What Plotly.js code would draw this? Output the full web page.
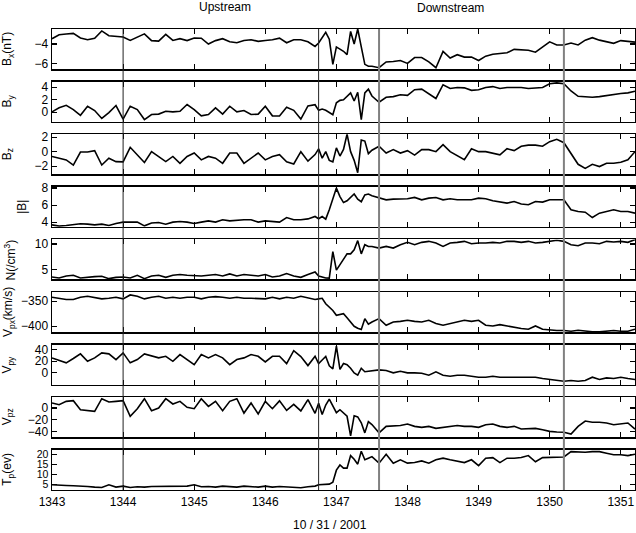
<!DOCTYPE html>
<html>
<head>
<meta charset="utf-8">
<script src="https://cdn.plot.ly/plotly-3.0.1.min.js"></script>
<style>html,body{margin:0;padding:0;background:#fff;}#chart{width:636px;height:533px;}</style>
</head>
<body>
<div id="chart"></div>
<script>
// time axis (minutes-of-day style index)
var time = [1343.0,1343.1,1343.2,1343.3,1343.4,1343.5,1343.6,1343.7,1343.8,1343.9,
1344.0,1344.1,1344.2,1344.3,1344.4,1344.5,1344.6,1344.7,1344.8,1344.9,
1345.0,1345.1,1345.2,1345.3,1345.4,1345.5,1345.6,1345.7,1345.8,1345.9,
1346.0,1346.1,1346.2,1346.3,1346.4,1346.5,1346.6,1346.7,
1346.75,1346.8,1346.85,1346.9,1346.95,1347.0,1347.05,1347.1,1347.15,1347.2,1347.25,1347.3,1347.35,1347.4,1347.45,1347.5,
1347.6,1347.7,1347.8,1347.9,1348.0,1348.1,1348.2,1348.3,1348.4,1348.5,1348.6,1348.7,1348.8,1348.9,
1349.0,1349.1,1349.2,1349.3,1349.4,1349.5,1349.6,1349.7,1349.8,1349.9,
1350.0,1350.1,1350.2,1350.3,1350.4,1350.5,1350.6,1350.7,1350.8,1350.9,
1351.0,1351.1,1351.2];

var Bx = [-3.45,-3.04,-2.97,-2.9,-3.38,-3.56,-3.4,-2.65,-3.15,-3.2,
-3.28,-3.63,-3.3,-2.95,-3.65,-3.7,-3.0,-3.63,-3.45,-3.65,
-3.38,-3.4,-4.0,-3.65,-3.45,-3.77,-3.87,-3.63,-3.56,-3.73,
-3.63,-3.56,-3.4,-3.87,-3.56,-3.56,-3.77,-4.25,
-3.9,-3.3,-2.8,-3.5,-6.1,-4.3,-4.55,-4.75,-5.1,-2.7,-4.0,-2.45,-4.3,-6.1,-6.3,-6.3,
-6.45,-5.85,-5.8,-5.7,-6.0,-5.4,-5.4,-5.85,-6.45,-4.76,-5.45,-5.1,-5.35,-5.35,
-5.7,-5.25,-5.05,-5.0,-4.9,-4.55,-4.6,-4.65,-4.85,-4.3,
-3.78,-4.1,-4.1,-3.9,-4.1,-3.6,-3.35,-3.6,-3.8,-3.93,
-3.65,-3.75,-3.8];

var By = [0.06,0.7,1.1,0.43,-0.5,0.96,0.27,-1.0,-0.05,1.07,
-1.1,0.96,0.43,-1.17,-0.37,-0.3,0.16,0.06,0.16,1.23,
0.43,-0.58,-0.37,0.7,-0.3,0.96,0.06,0.27,-0.37,-0.3,
0.96,-0.58,-0.6,0.8,0.3,-1.1,1.0,1.2,
0.3,0.5,0.3,0.0,-0.4,1.5,1.9,2.0,2.6,3.1,1.8,3.2,-1.2,3.1,3.7,2.6,
1.6,2.4,2.5,2.8,2.7,3.6,3.7,2.9,2.2,4.4,3.8,3.95,3.9,3.5,
3.6,3.95,4.1,3.8,3.95,3.95,3.95,3.8,3.9,3.95,
4.55,4.7,4.55,3.4,2.55,2.5,2.4,2.5,2.7,2.9,
3.0,3.1,3.35];

var Bz = [-0.66,-0.9,-1.13,-1.84,-0.05,-0.05,0.14,-1.84,-0.9,-1.37,
-1.4,0.6,-0.5,-1.5,0.0,-0.66,-1.37,-0.66,-1.6,-0.66,
-0.19,-1.13,-0.66,-0.9,-1.6,-0.19,-0.19,-1.6,-0.9,-0.19,
-1.13,-0.66,-0.42,-1.4,-1.7,0.0,-1.3,-0.4,
0.38,-0.9,0.0,-1.2,-1.4,0.52,-0.6,0.3,2.4,0.0,-1.2,-2.9,1.6,1.46,-0.28,0.2,
0.75,-0.19,0.28,-0.19,0.14,-0.47,0.28,0.28,0.0,0.97,0.0,-0.5,-1.1,0.4,
0.0,0.0,-0.19,-0.43,0.4,0.14,0.75,0.9,0.9,0.75,
1.37,1.7,1.23,-0.19,-1.74,-2.3,-1.74,-2.05,-1.6,-1.6,
-1.46,-1.13,0.0];

var Bmag = [3.68,3.53,3.6,3.68,3.8,3.76,3.68,3.76,3.6,3.84,
4.0,4.0,4.0,3.56,3.9,3.95,3.76,4.0,4.08,4.0,
3.84,4.0,4.15,4.0,4.27,4.15,4.23,4.27,4.27,4.0,
4.15,4.08,4.0,4.54,4.27,4.27,4.38,4.66,
4.4,4.66,4.35,5.45,6.82,8.0,7.0,6.3,6.5,6.9,7.3,6.7,6.4,7.2,7.3,7.1,
6.9,6.62,6.7,6.74,6.74,6.9,6.62,6.82,6.9,6.62,6.74,6.62,6.58,6.62,
6.82,6.74,6.5,6.35,6.23,6.42,6.12,6.04,6.42,6.35,
6.62,6.62,6.62,5.45,5.25,5.17,4.54,5.05,5.25,5.45,
5.25,5.25,5.05];

var N = [3.52,3.32,3.72,3.86,3.32,3.52,3.6,3.66,3.2,3.45,
3.52,3.32,3.86,3.2,3.72,3.86,3.45,3.86,4.0,3.86,
3.72,3.72,3.86,4.0,3.72,4.12,3.72,4.0,3.86,3.72,
4.0,3.52,3.72,4.2,3.72,3.45,4.0,4.52,
3.72,3.45,3.32,3.3,8.52,4.86,5.86,6.86,8.06,8.06,8.86,10.66,8.06,9.86,9.52,9.52,
9.2,9.52,9.2,9.86,10.32,9.86,10.32,10.52,10.2,9.52,10.2,10.32,10.52,10.05,
10.2,10.2,10.32,10.2,10.52,10.52,10.32,10.52,10.2,10.32,
10.52,10.72,10.52,9.86,9.66,10.2,10.2,10.05,10.52,10.4,
10.52,10.32,10.86];

var Vpx = [-342.1,-344.1,-346.6,-346.6,-342.1,-340.1,-342.1,-345.3,-344.1,-342.1,
-345.3,-337.4,-340.1,-345.3,-342.1,-340.1,-344.1,-342.1,-344.1,-342.1,
-342.1,-345.3,-342.1,-340.8,-342.1,-344.1,-342.1,-344.1,-344.1,-345.3,
-345.3,-342.1,-345.3,-342.1,-344.1,-340.1,-344.1,-346.6,
-345.3,-344.1,-355,-362,-368.4,-378,-377,-375,-382.9,-392,-400,-404,-406.6,-384.8,-396,-391.5,
-384.8,-398,-391.5,-390.2,-388.1,-390.2,-391.5,-388.1,-394.7,-398,-394.7,-392.8,-388.1,-390.2,
-388.1,-398,-399.4,-396.7,-399.4,-401.3,-404.6,-405.9,-399.4,-405.9,
-407.9,-408.6,-408.6,-409.9,-407.9,-409.9,-411,-411,-409.9,-408.6,
-409.9,-409.9,-405.9];

var Vpy = [25.7,21.1,17.2,24.6,32.6,19.9,25.7,34.3,32.6,22.8,
34.3,17.2,22.8,32.6,28.5,25.7,28.5,19.9,31.4,22.8,
14.2,31.4,25.7,31.4,25.7,14.2,22.8,25.7,31.4,28.5,
18.8,28.5,28.5,16,38,28,12.5,28.5,
16,22,28,12,7,46,6,16,14,8,0,-4,8,2,3,3,
5.1,4.0,0,2.8,0,0,-0.6,-4,1.7,-4,-5.7,-4,-4,-5.7,
-7.4,-7.4,-5.7,-7.4,-7.4,-7.4,-7.4,-7.4,-7.4,-9.7,
-11.4,-13.1,-14.3,-13.1,-14.3,-13.1,-7.4,-11.4,-8.6,-9.7,
-7.4,-9.7,-11.4];

var Vpz = [8.4,5.6,11.2,12.3,-2.9,-4.6,-5.7,15.7,10.1,11.2,
12.3,-14.2,-1.2,15.7,-4.6,0,15.7,6.7,11.2,1.1,
-1.2,15.7,2.8,11.2,-4.6,11.2,15.7,-8.6,8.4,-10.1,
11.2,-1.2,12,-4,6,-5,14,-9,
8,-11,5,15,3,-8,-3,-8,-14,-47,-13,-15,-25,-42,-23,-28,
-42,-31,-30,-29.6,-27,-31,-32.7,-31,-34.4,-32.7,-31,-29.6,-31,-31,
-32.7,-28.2,-27,-31,-32.7,-31,-35.5,-34.4,-34.4,-36.6,
-39.5,-40.5,-41,-43.9,-31,-22,-24,-24,-25.3,-28.2,
-27,-25.3,-35.5];

var Tp = [4.65,4.3,4.3,4.15,4.15,3.8,3.5,3.3,4.65,3.5,
4.0,3.3,3.65,3.5,3.8,3.8,3.65,3.8,3.65,4.0,
4.65,3.65,3.8,3.5,4.0,3.8,3.5,4.0,3.8,3.5,
4.0,3.5,3.8,3.5,3.3,3.15,3.65,4.0,
4.65,4.8,5.0,5.0,6.0,12,14.6,13,13,19.3,17.5,15,21.5,17.2,18,18.8,
15.5,20,15.5,17.2,15.5,15.8,16.65,15.5,17.2,18,17.2,16.65,15.8,17.2,
14.3,18,18.3,15.8,18,18,18.3,19.3,16.2,18.3,
18.3,18.3,18.6,21.3,21,21,21.3,21.3,20.5,19.7,
19.7,19.3,20];

var xTicks = [1343,1344,1345,1346,1347,1348,1349,1350,1351];
var panelLabels = ["B<sub>x</sub>(nT)","B<sub>y</sub>","B<sub>z</sub>","|B|","N(/cm<sup>3</sup>)",
  "V<sub>px</sub>(km/s)","V<sub>py</sub>","V<sub>pz</sub>","T<sub>p</sub>(ev)"];
var yTickVals = [[-6,-4],[0,2,4],[-2,0,2],[4,6,8],[5,10],[-400,-350],[0,20,40],[-40,-20,0],[5,10,15,20]];
var eventTimes = [1344.0, 1346.75, 1347.6, 1350.2];

var series = [Bx, By, Bz, Bmag, N, Vpx, Vpy, Vpz, Tp];
var yRanges = [[-6.58,-2.45],[-1.5,4.9],[-3.1,2.4],[3.45,8.15],[3.05,10.9],[-411.5,-331.5],[-20.1,48.5],[-49.3,18.2],[2.15,22.2]];
var labelX = [8,8,8,22,10,9,8,8,8];
var tickSize = [12,12,12,12,12,12,12,12,10.5];

var FONT = 'Liberation Sans, Arial, Helvetica, sans-serif';
var L = 52, W = 583, T = 29, H = 461;
var traces = [], layout = {
  width: 636, height: 533,
  margin: {l: L, r: 636 - L - W, t: T, b: 533 - T - H, pad: 0},
  paper_bgcolor: '#fff', plot_bgcolor: '#fff',
  showlegend: false,
  font: {family: FONT, size: 12, color: '#000'},
  annotations: [], shapes: []
};

for (var i = 0; i < 9; i++) {
  var s = i === 0 ? '' : String(i + 1);
  traces.push({x: time, y: series[i], xaxis: 'x' + s, yaxis: 'y' + s, type: 'scatter', mode: 'lines',
    line: {color: '#000', width: 1.6}, hoverinfo: 'skip'});
  var topPx = 29 + i * 52.6, botPx = topPx + 40;
  var dom = [(490 - botPx) / H, (490 - topPx) / H];
  layout['xaxis' + s] = {anchor: 'y' + s, domain: [0, 1], range: [1343, 1351.2],
    tickvals: xTicks, ticktext: xTicks.map(String), ticks: 'inside', ticklen: 5, tickwidth: 1.2, tickcolor: '#000',
    showline: true, linecolor: '#000', linewidth: 1.5, mirror: 'ticks',
    showgrid: false, zeroline: false, showticklabels: i === 8,
    tickfont: {family: FONT, size: 12, color: '#000'}};
  if (i > 0) layout['xaxis' + s].matches = 'x';
  layout['yaxis' + s] = {anchor: 'x' + s, domain: dom, range: yRanges[i],
    tickvals: yTickVals[i], ticks: 'inside', ticklen: 5, tickwidth: 1.2, tickcolor: '#000',
    showline: true, linecolor: '#000', linewidth: 1.5, mirror: 'ticks',
    showgrid: false, zeroline: false,
    tickfont: {family: FONT, size: tickSize[i], color: '#000'}};
  layout.annotations.push({text: panelLabels[i], xref: 'paper', yref: 'paper',
    x: (labelX[i] - L) / W, y: (dom[0] + dom[1]) / 2, xanchor: 'center', yanchor: 'middle',
    textangle: -90, showarrow: false, font: {family: FONT, size: 12, color: '#000'}});
}

for (var k = 0; k < eventTimes.length; k++) {
  var gray = k >= 2;
  layout.shapes.push({type: 'line', xref: 'x', yref: 'paper', x0: eventTimes[k], x1: eventTimes[k], y0: 0, y1: 1,
    line: {color: gray ? '#808080' : '#222', width: gray ? 2 : 1}});
}

layout.annotations.push({text: 'Upstream', xref: 'paper', yref: 'paper', x: (225 - L) / W, y: (490 - 7) / H,
  xanchor: 'center', yanchor: 'middle', showarrow: false, font: {family: FONT, size: 12, color: '#000'}});
layout.annotations.push({text: 'Downstream', xref: 'paper', yref: 'paper', x: (450 - L) / W, y: (490 - 8) / H,
  xanchor: 'center', yanchor: 'middle', showarrow: false, font: {family: FONT, size: 12, color: '#000'}});
layout.annotations.push({text: '10 / 31 / 2001', xref: 'paper', yref: 'paper', x: (330 - L) / W, y: (490 - 525) / H,
  xanchor: 'center', yanchor: 'middle', showarrow: false, font: {family: FONT, size: 12, color: '#000'}});

Plotly.newPlot('chart', traces, layout, {displayModeBar: false, staticPlot: true});
</script>
</body>
</html>
